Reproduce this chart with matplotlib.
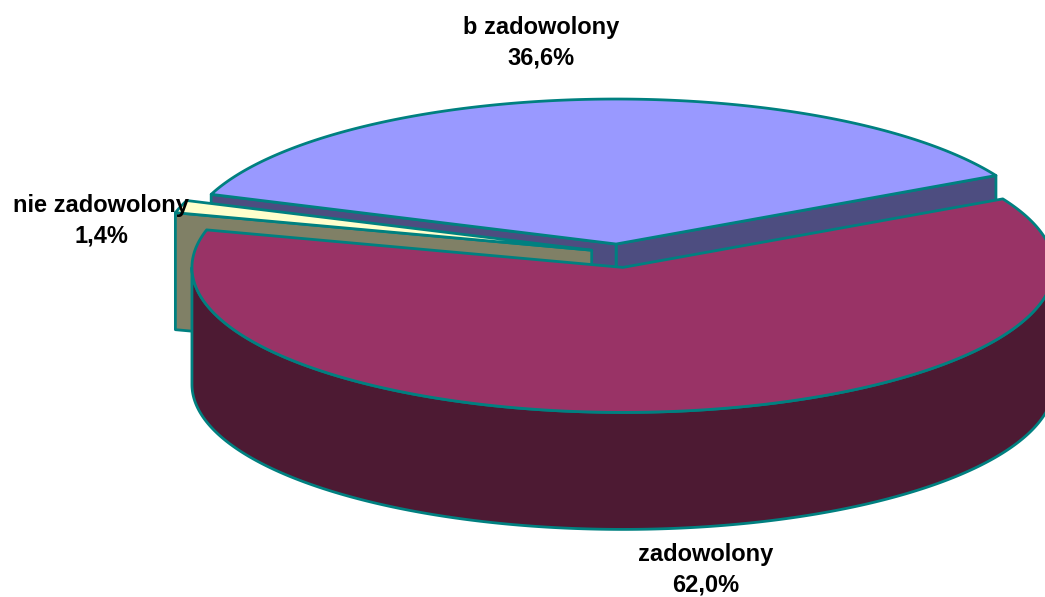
import numpy as np
import matplotlib
matplotlib.use('Agg')
import matplotlib.pyplot as plt
from matplotlib.patches import Polygon

# ---- data ----
categories = ['b zadowolony', 'nie zadowolony', 'zadowolony']
values = [36.6, 1.4, 62.0]

# ---- style / layout ----
top_colors = ['#9999FF', '#FFFFCC', '#993366']
side_colors = ['#4D4D80', '#808066', '#4D1A33']
explode = [0.062, 0.064, 0.10]
start_angle = 28.2          # degrees, counter-clockwise
label_pos = [(541, 43), (101, 221), (706, 570)]

W, H = 1045, 597
CX, CY = 618, 253           # pie centre (pixels)
A, B = 431, 145             # ellipse semi-axes
DEPTH = 117
EDGE = '#008080'
LW = 2.0

fig = plt.figure(figsize=(W / 100, H / 100), dpi=100)
ax = fig.add_axes([0, 0, 1, 1])
ax.set_xlim(0, W)
ax.set_ylim(H, 0)
ax.axis('off')

total = sum(values)
angles = []
t = start_angle
for v in values:
    span = 360.0 * v / total
    angles.append((t, t + span))
    t += span


def arc(cx, cy, a0, a1, dz=0.0, n=None):
    if n is None:
        n = max(4, int(abs(a1 - a0) * 2))
    th = np.radians(np.linspace(a0, a1, n))
    return np.column_stack([cx + A * np.cos(th), cy - B * np.sin(th) + dz])


def poly(pts, fc, z):
    ax.add_patch(Polygon(pts, closed=True, facecolor=fc, edgecolor=EDGE,
                         lw=LW, joinstyle='round', zorder=z))


slices = []
for i, (t0, t1) in enumerate(angles):
    mid = np.radians((t0 + t1) / 2)
    cx = CX + explode[i] * A * np.cos(mid)
    cy = CY - explode[i] * B * np.sin(mid)
    slices.append((cy, i, cx, t0, t1))

slices.sort()
z = 1
for cy, i, cx, t0, t1 in slices:
    # cut faces
    for ang, vis in ((t0, np.cos(np.radians(t0)) > 0), (t1, np.cos(np.radians(t1)) < 0)):
        if vis:
            r = np.radians(ang)
            ex, ey = cx + A * np.cos(r), cy - B * np.sin(r)
            pts = [(cx, cy), (ex, ey), (ex, ey + DEPTH), (cx, cy + DEPTH)]
            poly(pts, side_colors[i], z)
            z += 1
    # outer visible side
    for k in range(-1, 3):
        lo = max(t0, 180 + 360 * k)
        hi = min(t1, 360 + 360 * k)
        if hi > lo:
            top = arc(cx, cy, lo, hi)
            bot = arc(cx, cy, hi, lo, DEPTH)
            poly(np.vstack([top, bot]), side_colors[i], z)
            z += 1
    # top face
    pts = np.vstack([[(cx, cy)], arc(cx, cy, t0, t1)])
    poly(pts, top_colors[i], z)
    z += 1

for i, name in enumerate(categories):
    txt = f"{name}\n{values[i]:.1f}%".replace('.', ',')
    ax.text(label_pos[i][0], label_pos[i][1], txt, ha='center', va='center',
            fontsize=17, fontweight='bold', family=['Liberation Sans', 'DejaVu Sans'],
            linespacing=1.4, zorder=100)

fig.savefig('out.png', dpi=100)
